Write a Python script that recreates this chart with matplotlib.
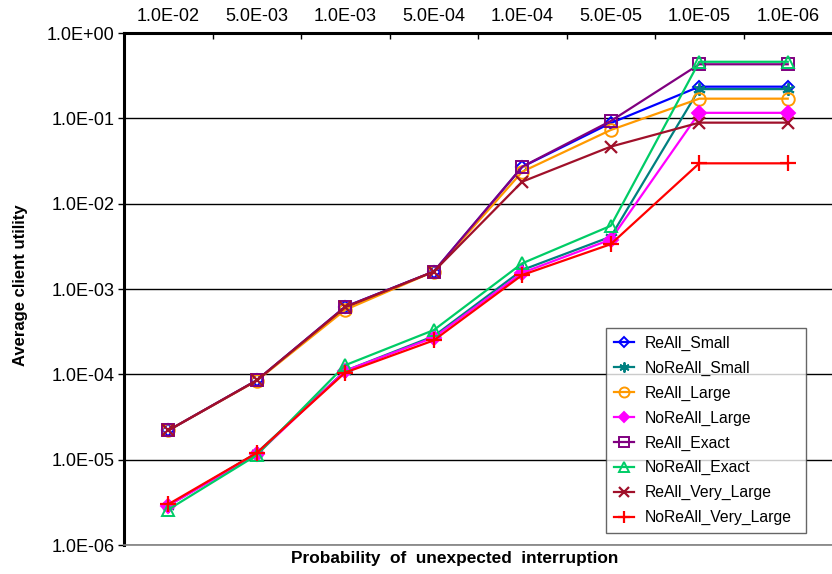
import matplotlib
matplotlib.use("Agg")
import matplotlib.pyplot as plt
from matplotlib.ticker import FixedLocator, FuncFormatter, NullLocator

plt.rcParams['font.family'] = ['Liberation Sans', 'DejaVu Sans']

categories = ["1.0E-02", "5.0E-03", "1.0E-03", "5.0E-04", "1.0E-04", "5.0E-05", "1.0E-05", "1.0E-06"]

reall_small = [2.2e-5, 8.5e-5, 6.2e-4, 1.6e-3, 2.7e-2, 8.8e-2, 0.235, 0.235]
noreall_small = [2.9e-6, 1.2e-5, 1.1e-4, 2.8e-4, 1.67e-3, 4.1e-3, 0.22, 0.22]
reall_large = [2.2e-5, 8.4e-5, 5.7e-4, 1.6e-3, 2.37e-2, 7.3e-2, 0.17, 0.17]
noreall_large = [2.9e-6, 1.15e-5, 1.1e-4, 2.7e-4, 1.55e-3, 3.8e-3, 0.116, 0.116]
reall_exact = [2.2e-5, 8.5e-5, 6.2e-4, 1.6e-3, 2.71e-2, 9.3e-2, 0.43, 0.43]
noreall_exact = [2.6e-6, 1.13e-5, 1.28e-4, 3.3e-4, 2.0e-3, 5.5e-3, 0.46, 0.46]
reall_very_large = [2.2e-5, 8.5e-5, 6.1e-4, 1.6e-3, 1.81e-2, 4.66e-2, 0.089, 0.089]
noreall_very_large = [3.0e-6, 1.2e-5, 1.05e-4, 2.5e-4, 1.46e-3, 3.35e-3, 0.0297, 0.0297]

series = [
    ("ReAll_Small", reall_small, dict(color="#0000FF", marker="D", mfc="none", ms=6)),
    ("NoReAll_Small", noreall_small, dict(color="#008080", marker=(6, 2, 0), ms=9)),
    ("ReAll_Large", reall_large, dict(color="#FF9900", marker="o", mfc="none", ms=9)),
    ("NoReAll_Large", noreall_large, dict(color="#FF00FF", marker="D", ms=7)),
    ("ReAll_Exact", reall_exact, dict(color="#800080", marker="s", mfc="none", ms=9)),
    ("NoReAll_Exact", noreall_exact, dict(color="#00CC66", marker="^", mfc="none", ms=9)),
    ("ReAll_Very_Large", reall_very_large, dict(color="#A0102A", marker="x", ms=9, mew=1.6)),
    ("NoReAll_Very_Large", noreall_very_large, dict(color="#FF0000", marker="+", ms=11, mew=1.6)),
]

fig = plt.figure(figsize=(8.32, 5.74), dpi=100)
ax = fig.add_axes([124 / 832, 1 - 545 / 574, 1 - 124 / 832, (545 - 33) / 574])

x = list(range(len(categories)))
for name, vals, st in series:
    kw = dict(lw=1.6, mew=st.pop("mew", 1.4))
    ax.plot(x, vals, label=name, **kw, **st)

ax.set_yscale("log")
ax.set_ylim(1e-6, 1.0)
ax.set_xlim(-0.5, len(categories) - 0.5)

yt = [1e-6, 1e-5, 1e-4, 1e-3, 1e-2, 1e-1, 1e0]
ax.yaxis.set_major_locator(FixedLocator(yt))
ax.yaxis.set_minor_locator(NullLocator())
ax.yaxis.set_major_formatter(FuncFormatter(lambda v, p: "%.1E" % v))
ax.grid(axis="y", color="black", lw=1.0)
ax.set_axisbelow(True)

ax.xaxis.tick_top()
ax.set_xticks(x)
ax.set_xticklabels(categories)
ax.set_xticks([i + 0.5 for i in range(len(categories) - 1)], minor=True)
ax.tick_params(axis="x", which="major", length=0, labelsize=13, pad=6)
ax.tick_params(axis="x", which="minor", direction="in", length=4, width=1)
ax.tick_params(axis="y", which="major", direction="out", length=4, width=1, labelsize=13, pad=3)

ax.spines["top"].set_linewidth(2.2)
ax.spines["left"].set_linewidth(2.2)
ax.spines["right"].set_visible(False)
ax.spines["bottom"].set_color("#808080")
ax.spines["bottom"].set_linewidth(1.2)

fig.text(21 / 832, 1 - 285 / 574, "Average client utility", rotation=90,
         fontsize=12, fontweight="bold", ha="center", va="center")
fig.text(455 / 832, 1 - 559 / 574, "Probability  of  unexpected  interruption",
         fontsize=12.4, fontweight="bold", ha="center", va="center")

leg = ax.legend(loc="lower left", bbox_to_anchor=((606 - 124) / 708, (545 - 533) / 512, (806 - 606) / 708, (533 - 332) / 512),
                mode="expand", fontsize=11.3, frameon=True, fancybox=False, edgecolor="#404040",
                borderaxespad=0, handlelength=1.3, handletextpad=0.7, labelspacing=0.62,
                borderpad=0.5, markerscale=0.8)
leg.get_frame().set_linewidth(1.0)

fig.savefig("out.png", dpi=100)
